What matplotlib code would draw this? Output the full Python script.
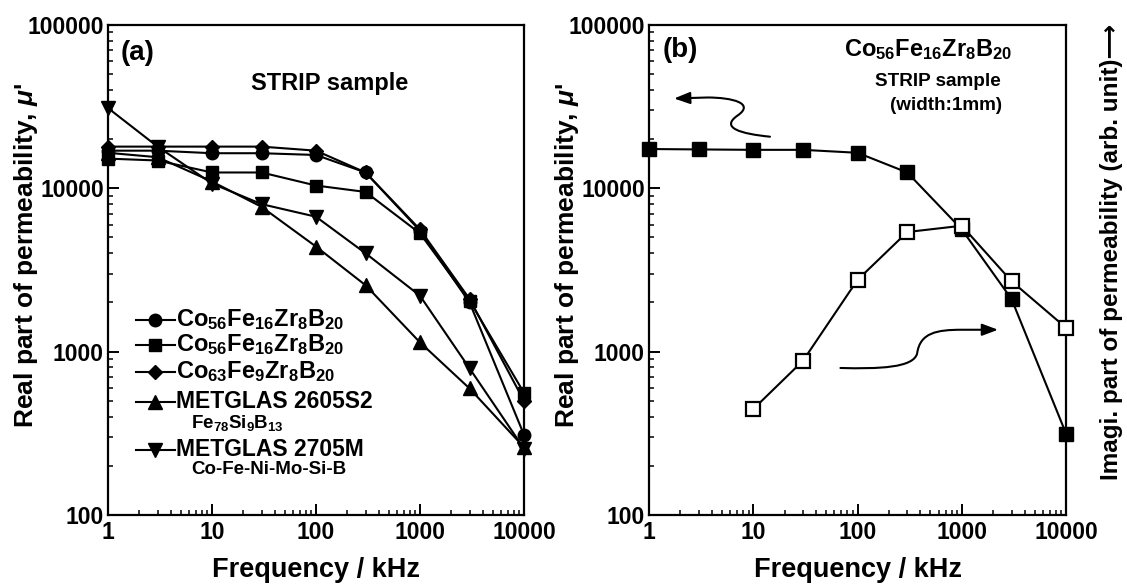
import matplotlib
matplotlib.use("Agg")
import matplotlib.pyplot as plt
from matplotlib.path import Path
from matplotlib.patches import FancyArrowPatch
from matplotlib.ticker import FixedLocator, NullFormatter, LogLocator

plt.rcParams["font.family"] = ["Liberation Sans", "DejaVu Sans"]
plt.rcParams["font.weight"] = "bold"
plt.rcParams["axes.labelweight"] = "bold"
plt.rcParams["mathtext.fontset"] = "custom"
plt.rcParams["mathtext.rm"] = "Liberation Sans:bold"
plt.rcParams["mathtext.bf"] = "Liberation Sans:bold"
plt.rcParams["mathtext.it"] = "Liberation Sans:bold:italic"
plt.rcParams["mathtext.default"] = "bf"

# frequencies (kHz)
freq = [1, 3, 10, 30, 100, 300, 1000, 3000, 10000]

# panel (a): real part of permeability
co56_circle = [17000, 17000, 16400, 16400, 16000, 12500, 5500, 2000, 310]
co56_square = [15200, 14800, 12500, 12500, 10400, 9500, 5300, 2050, 560]
co63_diamond = [18000, 18000, 18000, 18000, 17000, 12500, 5600, 2100, 500]
metglas_2605 = [16500, 15500, 11000, 7700, 4400, 2550, 1140, 595, 260]
metglas_2705 = [31000, 18000, 10700, 8000, 6700, 4000, 2200, 790, 255]

# panel (b)
real_b = [17400, 17300, 17200, 17200, 16500, 12500, 5600, 2100, 315]
imag_freq = [10, 30, 100, 300, 1000, 3000, 10000]
imag_b = [445, 880, 2750, 5400, 5900, 2700, 1400]

series_a = [
    (co56_circle, "o", r"Co$_{56}$Fe$_{16}$Zr$_8$B$_{20}$", None),
    (co56_square, "s", r"Co$_{56}$Fe$_{16}$Zr$_8$B$_{20}$", None),
    (co63_diamond, "D", r"Co$_{63}$Fe$_9$Zr$_8$B$_{20}$", None),
    (metglas_2605, "^", "METGLAS 2605S2", r"Fe$_{78}$Si$_9$B$_{13}$"),
    (metglas_2705, "v", "METGLAS 2705M", "Co-Fe-Ni-Mo-Si-B"),
]
marker_size = {"o": 9, "s": 8.5, "D": 7.5, "^": 9.5, "v": 9.5}

fig = plt.figure(figsize=(11.27, 5.85), dpi=100)
ax_a = fig.add_axes([0.0958, 0.1197, 0.3691, 0.8376])
ax_b = fig.add_axes([0.5759, 0.1197, 0.3700, 0.8376])


def style_axes(ax):
    ax.set_xscale("log")
    ax.set_yscale("log")
    ax.set_xlim(1, 10000)
    ax.set_ylim(100, 100000)
    ax.xaxis.set_major_locator(FixedLocator([1, 10, 100, 1000, 10000]))
    ax.yaxis.set_major_locator(FixedLocator([100, 1000, 10000, 100000]))
    ax.xaxis.set_minor_locator(LogLocator(base=10, subs=range(2, 10)))
    ax.yaxis.set_minor_locator(LogLocator(base=10, subs=range(2, 10)))
    ax.xaxis.set_minor_formatter(NullFormatter())
    ax.yaxis.set_minor_formatter(NullFormatter())
    ax.set_xticklabels(["1", "10", "100", "1000", "10000"])
    ax.set_yticklabels(["100", "1000", "10000", "100000"])
    ax.tick_params(which="major", direction="in", length=8, width=1.4,
                   labelsize=16.5)
    ax.tick_params(axis="x", which="major", pad=4)
    ax.tick_params(axis="y", which="major", pad=3)
    ax.tick_params(which="minor", direction="in", length=3.5, width=1.1)
    for sp in ax.spines.values():
        sp.set_linewidth(1.6)
    ax.set_xlabel("Frequency / kHz", fontsize=19.5, va="center")
    ax.xaxis.set_label_coords(0.5, -0.112)
    ax.set_ylabel(r"Real part of permeability, $\mathit{\mu}$'", fontsize=19,
                  va="center")
    ax.yaxis.set_label_coords(-0.197, 0.53)


# ---- panel (a)
for vals, mk, _, _ in series_a:
    ax_a.plot(freq, vals, color="k", lw=1.5, marker=mk, ms=marker_size[mk],
              mfc="k", mec="k", clip_on=False, zorder=3)
style_axes(ax_a)
ax_a.text(0.072, 0.943, "(a)", transform=ax_a.transAxes, fontsize=20,
          ha="center", va="center")
ax_a.text(0.532, 0.880, "STRIP sample", transform=ax_a.transAxes, fontsize=17,
          ha="center", va="center")

# hand-placed legend
rows_y = [0.398, 0.347, 0.292, 0.231, 0.133]
sub_y = {3: 0.188, 4: 0.092}
for i, (vals, mk, label, sub) in enumerate(series_a):
    y = rows_y[i]
    ax_a.plot([0.067, 0.161], [y, y], color="k", lw=1.5, transform=ax_a.transAxes)
    ax_a.plot([0.112], [y], marker=mk, ms=marker_size[mk], color="k",
              transform=ax_a.transAxes)
    ax_a.text(0.163, y, label, transform=ax_a.transAxes, fontsize=17 if sub is None else 16.5,
              ha="left", va="center")
    if sub:
        ax_a.text(0.2, sub_y[i], sub, transform=ax_a.transAxes, fontsize=13.5,
                  ha="left", va="center")

# ---- panel (b)
ax_b.plot(freq, real_b, color="k", lw=1.5, marker="s", ms=10, mfc="k", mec="k",
          clip_on=False, zorder=3)
ax_b.plot(imag_freq, imag_b, color="k", lw=1.5, marker="s", ms=10, mfc="white",
          mec="k", mew=1.6, clip_on=False, zorder=4)
style_axes(ax_b)
ax_b.text(0.074, 0.949, "(b)", transform=ax_b.transAxes, fontsize=20,
          ha="center", va="center")
ax_b.text(0.669, 0.950, r"Co$_{56}$Fe$_{16}$Zr$_8$B$_{20}$", transform=ax_b.transAxes,
          fontsize=17, ha="center", va="center")
ax_b.text(0.693, 0.884, "STRIP sample", transform=ax_b.transAxes, fontsize=13.6,
          ha="center", va="center")
ax_b.text(0.712, 0.835, "(width:1mm)", transform=ax_b.transAxes, fontsize=13.6,
          ha="center", va="center")
ax_b.text(1.11, 0.537, "Imagi. part of permeability (arb. unit)\u27f6",
          transform=ax_b.transAxes, rotation=90, fontsize=17.5,
          ha="center", va="center")

# curly arrows pointing to the axes
arrow_left = Path(
    [(0.29, 0.772), (0.22, 0.778), (0.17, 0.79), (0.212, 0.815),
     (0.255, 0.84), (0.20, 0.852), (0.14, 0.852), (0.06, 0.85)],
    [Path.MOVETO, Path.CURVE4, Path.CURVE4, Path.CURVE4,
     Path.CURVE4, Path.CURVE4, Path.CURVE4, Path.LINETO])
arrow_right = Path(
    [(0.459, 0.300), (0.55, 0.298), (0.635, 0.30), (0.643, 0.33),
     (0.65, 0.372), (0.69, 0.378), (0.75, 0.378), (0.837, 0.378)],
    [Path.MOVETO, Path.CURVE4, Path.CURVE4, Path.CURVE4,
     Path.CURVE4, Path.CURVE4, Path.CURVE4, Path.LINETO])
for p in (arrow_left, arrow_right):
    ax_b.add_patch(FancyArrowPatch(path=p, arrowstyle="-|>,head_length=0.8,head_width=0.3",
                                   mutation_scale=12, color="k", lw=1.5,
                                   transform=ax_b.transAxes))

fig.savefig("out.png", dpi=100)
